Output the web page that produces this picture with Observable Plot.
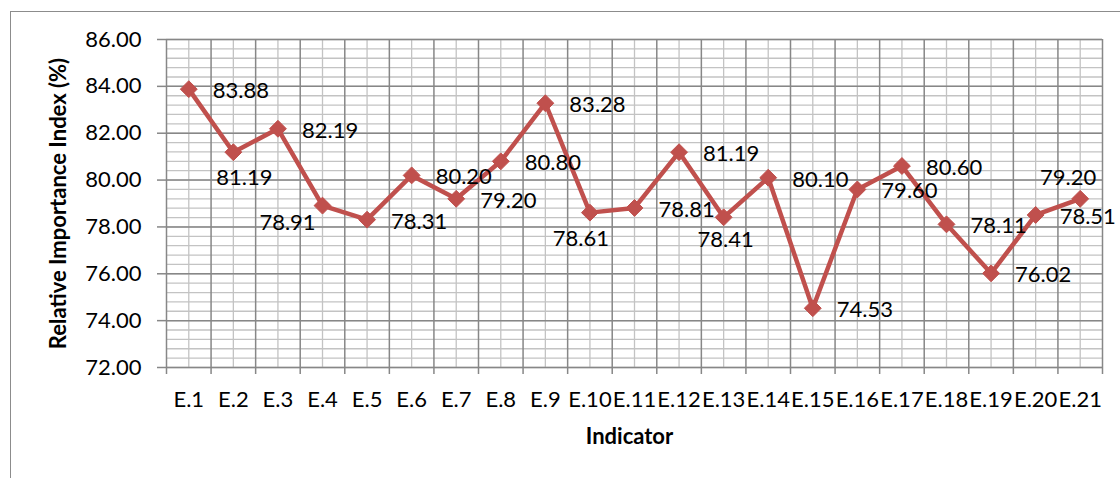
<!DOCTYPE html>
<html>
<head>
<meta charset="utf-8">
<script src="https://cdn.jsdelivr.net/npm/d3@7"></script>
<script src="https://cdn.jsdelivr.net/npm/@observablehq/plot@0.6"></script>
<style>
  body { margin: 0; background: #fff; }
  #wrap { position: relative; width: 1120px; height: 478px; overflow: hidden; }
  #wrap svg { position: absolute; left: 0; top: 0; }
  #border { position: absolute; left: 10px; top: 11px; width: 1300px; height: 700px;
            border-left: 1.5px solid #8c8c8c; border-top: 1.5px solid #8c8c8c; pointer-events: none; }
</style>
</head>
<body>
<div id="wrap"></div>
<script>
// ---- data ----
const categories = ["E.1","E.2","E.3","E.4","E.5","E.6","E.7","E.8","E.9","E.10","E.11",
                    "E.12","E.13","E.14","E.15","E.16","E.17","E.18","E.19","E.20","E.21"];
const rii = [83.88, 81.19, 82.19, 78.91, 78.31, 80.20, 79.20, 80.80, 83.28, 78.61, 78.81,
             81.19, 78.41, 80.10, 74.53, 79.60, 80.60, 78.11, 76.02, 78.51, 79.20];
const yTicks = [72, 74, 76, 78, 80, 82, 84, 86];
const yTitle = "Relative Importance Index (%)";
const xTitle = "Indicator";

// ---- styles ----
const lineColor = "#C0504D";
const majorGrid = "#878787";
const minorGrid = "#c3c3c3";
// label placement (style): default to the right of the marker, some nudged
const labelNudge = {
  "E.2":  {dx: 11,  dy: 26},
  "E.4":  {dx: -35, dy: 17},
  "E.10": {dx: -9,  dy: 26},
  "E.13": {dx: 2,   dy: 23},
  "E.21": {dx: -12, dy: -21}
};

const data = categories.map((c, i) => ({i: i + 1, cat: c, v: rii[i]}));
const idx = data.map(d => d.i);
const bounds = d3.range(0, categories.length + 1).map(k => k + 0.5);
const yMin = d3.min(yTicks), yMax = d3.max(yTicks);
const minorStep = (yTicks[1] - yTicks[0]) / 5;
const yMinor = d3.range(0, Math.round((yMax - yMin) / minorStep) + 1).map(k => yMin + k * minorStep);

const fmt = d3.format(".2f");

const defaultLabels = data.filter(d => !(d.cat in labelNudge));
const nudgedMarks = data.filter(d => d.cat in labelNudge).map(d =>
  Plot.text([d], {x: "i", y: "v", text: e => fmt(e.v), textAnchor: "middle",
                  dx: labelNudge[d.cat].dx, dy: labelNudge[d.cat].dy, fill: "black"}));

const chart = Plot.plot({
  width: 1120,
  height: 478,
  marginLeft: 166,
  marginRight: 18,
  marginTop: 39,
  marginBottom: 111,
  style: {fontFamily: "Lato, 'Open Sans', sans-serif", fontSize: "22px", background: "transparent", color: "black"},
  x: {type: "linear", domain: [0.5, categories.length + 0.5], label: null},
  y: {type: "linear", domain: [yMin, yMax], label: null},
  marks: [
    // minor grid
    Plot.ruleY(yMinor, {stroke: minorGrid, strokeWidth: 1.3}),
    Plot.ruleX(idx, {y1: yMin, y2: yMax, stroke: minorGrid, strokeWidth: 1.3}),
    // major grid
    Plot.ruleY(yTicks, {stroke: majorGrid, strokeWidth: 1.5}),
    Plot.ruleX(bounds, {y1: yMin, y2: yMax, stroke: majorGrid, strokeWidth: 1.5}),
    // axes
    Plot.axisY(yTicks, {tickSize: 9, tickPadding: 16, tickFormat: fmt, stroke: majorGrid,
                        strokeWidth: 1.5, fill: "black", label: null}),
    Plot.axisX(bounds, {tickSize: 7, tickFormat: () => "", stroke: majorGrid, strokeWidth: 1.5, label: null}),
    Plot.axisX(idx, {tickSize: 0, tickPadding: 24, tickFormat: i => categories[i - 1], fill: "black", label: null}),
    // series
    Plot.line(data, {x: "i", y: "v", stroke: lineColor, strokeWidth: 4.5}),
    Plot.dot(data, {x: "i", y: "v", symbol: "diamond2", r: 7.6, fill: lineColor, stroke: lineColor, strokeWidth: 1}),
    // data labels
    Plot.text(defaultLabels, {x: "i", y: "v", text: d => fmt(d.v), textAnchor: "start", dx: 24, dy: 2, fill: "black"}),
    ...nudgedMarks,
    // axis titles
    Plot.text([yTitle], {frameAnchor: "left", text: d => d, rotate: -90, textAnchor: "middle", dx: -108, fontWeight: "bold", fill: "black"}),
    Plot.text([xTitle], {frameAnchor: "bottom", text: d => d, textAnchor: "middle", dy: 76, dx: -5, fontWeight: "bold", fill: "black"})
  ]
});

const wrap = document.getElementById("wrap");
wrap.appendChild(chart);
const border = document.createElement("div");
border.id = "border";
wrap.appendChild(border);
</script>
</body>
</html>
